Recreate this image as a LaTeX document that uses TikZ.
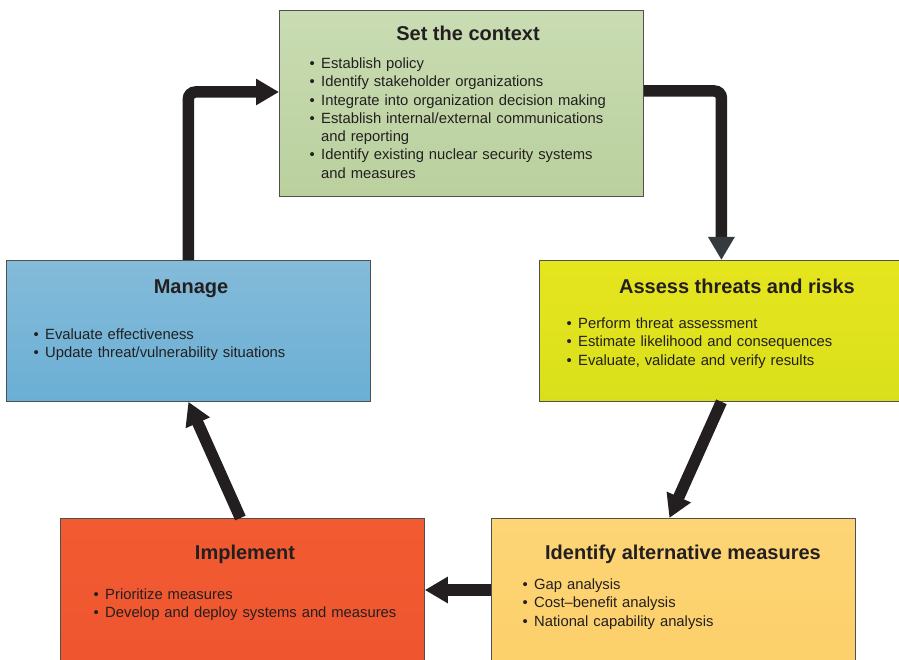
\documentclass[tikz,border=0pt]{standalone}
\usepackage{fontspec}
\setmainfont{Liberation Sans}
\usetikzlibrary{arrows.meta,calc}

\definecolor{ink}{HTML}{231F20}
\definecolor{headgray}{HTML}{353A3E}
\definecolor{boxline}{HTML}{505050}
\definecolor{ctxtop}{HTML}{C9DCB3}
\definecolor{ctxbot}{HTML}{BAD09D}
\definecolor{mantop}{HTML}{84BBD9}
\definecolor{manbot}{HTML}{6BAFD5}
\definecolor{asstop}{HTML}{E6E51E}
\definecolor{assbot}{HTML}{D9E01B}
\definecolor{imptop}{HTML}{F25B31}
\definecolor{impbot}{HTML}{EE5530}
\definecolor{idetop}{HTML}{FDD576}
\definecolor{idebot}{HTML}{FCCF69}

% bullet list used inside the step boxes
\newenvironment{pts}{%
  \begin{list}{\textbullet}{%
    \setlength{\leftmargin}{12pt}\setlength{\labelwidth}{6pt}%
    \setlength{\labelsep}{6.5pt}\setlength{\itemsep}{0pt}%
    \setlength{\parsep}{0pt}\setlength{\topsep}{0pt}%
    \setlength{\partopsep}{0pt}}}%
  {\end{list}}

\begin{document}
\begin{tikzpicture}[x=1pt,y=-1pt,
  stepbox/.style={draw=boxline, line width=0.8pt, inner sep=0pt,
    anchor=north west, minimum width=364pt},
  title/.style={text=ink, font=\fontsize{20}{24}\selectfont\bfseries,
    inner sep=0pt, anchor=base},
  items/.style={text=ink, font=\fontsize{14.8}{18.3}\selectfont,
    inner sep=0pt, anchor=north west, text width=340pt, align=left},
  flow/.style={draw=ink, line width=11.5pt, rounded corners=7pt,
    -{Triangle[length=23pt,width=25pt]}}
]
\useasboundingbox (0,0) rectangle (899,660);

% step boxes
\node[stepbox, minimum height=186pt, top color=ctxtop, bottom color=ctxbot]
  (ctx) at (279,10) {};
\node[stepbox, minimum height=141pt, top color=mantop, bottom color=manbot]
  (manage) at (6,260) {};
\node[stepbox, minimum height=141pt, top color=asstop, bottom color=assbot]
  (assess) at (539,260) {};
\node[stepbox, minimum height=160pt, top color=imptop, bottom color=impbot]
  (impl) at (60,518) {};
\node[stepbox, minimum height=160pt, top color=idetop, bottom color=idebot]
  (ident) at (491,518) {};

% titles
\node[title] (ctxT) at (468,41) {Set the context};
\node[title] (manT) at (191,294) {Manage};
\node[title] (assT) at (737,294) {Assess threats and risks};
\node[title] (impT) at (245,559) {Implement};
\node[title] (ideT) at (683,559) {Identify alternative measures};

% bullet points
\node[items] (ctxL) at (309,50) {\begin{pts}
  \item Establish policy
  \item Identify stakeholder organizations
  \item Integrate into organization decision making
  \item Establish internal/external communications\\ and reporting
  \item Identify existing nuclear security systems\\ and measures
\end{pts}};
\node[items] (manL) at (33,321) {\begin{pts}
  \item Evaluate effectiveness
  \item Update threat/vulnerability situations
\end{pts}};
\node[items] (assL) at (566,310) {\begin{pts}
  \item Perform threat assessment
  \item Estimate likelihood and consequences
  \item Evaluate, validate and verify results
\end{pts}};
\node[items] (impL) at (93,581) {\begin{pts}
  \item Prioritize measures
  \item Develop and deploy systems and measures
\end{pts}};
\node[items] (ideL) at (522,571) {\begin{pts}
  \item Gap analysis
  \item Cost--benefit analysis
  \item National capability analysis
\end{pts}};

% cycle connectors
\draw[flow] (manage.north) |- ($(ctx.north west)+(0,82)$);
\draw[flow, -{Triangle[length=23pt,width=25pt,color=headgray]}]
  ($(ctx.north east)+(0,81)$) -| (assess.north);
\draw[flow] (assess.south) -- ($(ident.north)+(-4,0)$);
\draw[flow] ($(ident.north west)+(0,72)$) -- ($(impl.north east)+(0,72)$);
\draw[flow] ($(impl.north)+(-2,0)$) -- (manage.south);
\end{tikzpicture}
\end{document}
